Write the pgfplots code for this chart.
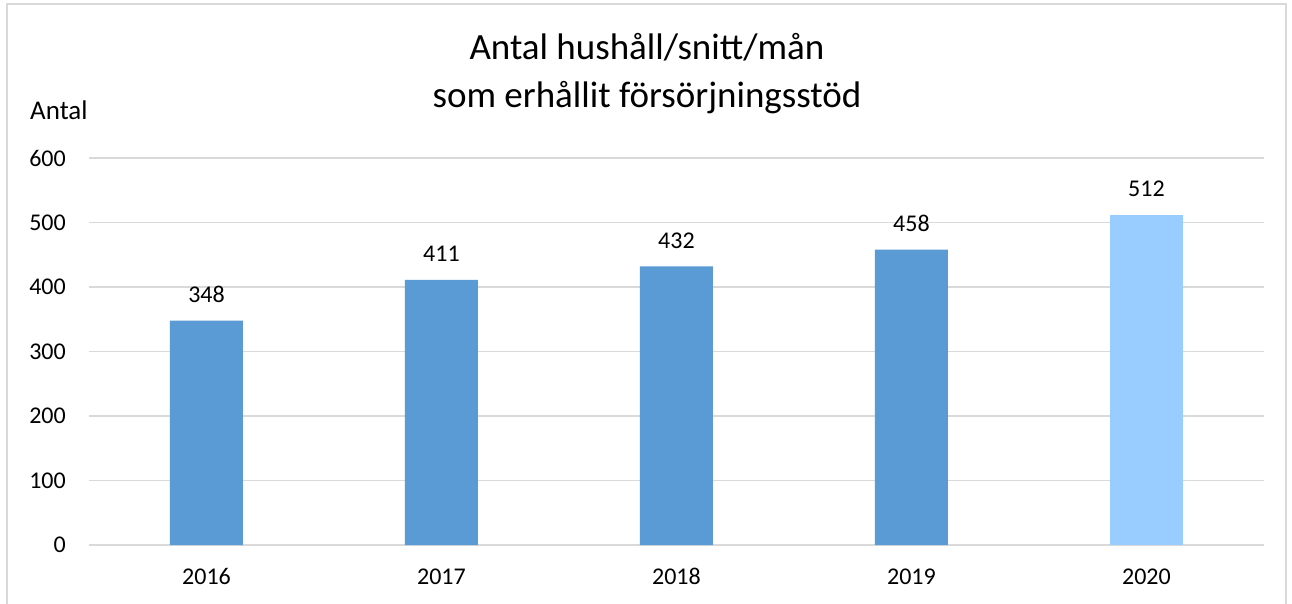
\documentclass[border=0pt]{standalone}
\usepackage{fontspec}
\setmainfont{Carlito}
\usepackage{pgfplots}
\pgfplotsset{compat=1.18}
\definecolor{barblue}{HTML}{5B9BD5}
\definecolor{barlight}{HTML}{99CCFF}
\definecolor{gridgray}{HTML}{D9D9D9}
\begin{document}
\begin{tikzpicture}
\useasboundingbox (0,0) rectangle (1292bp,604bp);
\fill[white] (0,0) rectangle (1292bp,604bp);
\draw[gridgray, line width=2bp] (7bp,0) -- (7bp,600bp) -- (1286bp,600bp) -- (1286bp,0);
\node[anchor=base, font=\fontsize{37bp}{45bp}\selectfont] at (647bp,544bp) {Antal hushåll/snitt/mån};
\node[anchor=base, font=\fontsize{37bp}{45bp}\selectfont] at (647bp,496bp) {som erhållit försörjningsstöd};
\node[anchor=base west, inner sep=0pt, font=\fontsize{27bp}{31bp}\selectfont] at (30bp,484bp) {Antal};
\begin{axis}[
  at={(89bp,59bp)}, anchor=south west,
  scale only axis, width=1175bp, height=387bp,
  xmin=-0.5, xmax=4.5, ymin=0, ymax=600,
  ytick={0,100,...,600},
  xtick={0,1,2,3,4},
  xticklabels={2016,2017,2018,2019,2020},
  axis line style={draw=none},
  major tick length=0pt,
  ymajorgrids, grid style={gridgray, line width=1.5bp},
  tick label style={font=\fontsize{24bp}{28bp}\selectfont, inner sep=0pt},
  /pgf/number format/assume math mode=true,
  yticklabel style={anchor=east, xshift=-23bp},
  xticklabel style={anchor=base, yshift=-39bp},
  ybar, bar width=73bp,
  nodes near coords,
  every node near coord/.append style={font=\fontsize{24bp}{28bp}\selectfont, anchor=base, inner sep=0pt, yshift=18bp},
  clip=false,
]
\addplot[fill=barblue, draw=none, bar shift=0pt] coordinates {(0,348) (1,411) (2,432) (3,458)};
\addplot[fill=barlight, draw=none, bar shift=0pt] coordinates {(4,512)};
\end{axis}
\end{tikzpicture}
\end{document}
